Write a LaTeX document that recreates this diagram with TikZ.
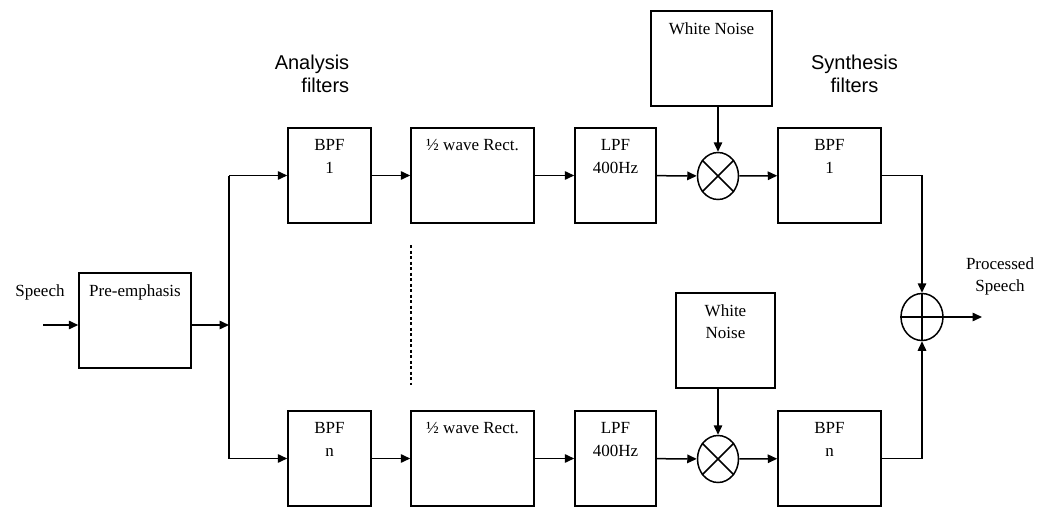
\documentclass[tikz,border=0pt]{standalone}
\usepackage{fontspec}
\setmainfont{Liberation Serif}
\newfontfamily\lsans{Liberation Sans}
\usetikzlibrary{arrows.meta,shapes.geometric}
\tikzset{
  blk/.style={draw,line width=1.5pt,minimum width=#1,inner sep=0pt,minimum height=95pt},
  boxtxt/.style={anchor=north,align=center,inner sep=0pt,yshift=-12pt,font=\fontsize{17}{22.5}\selectfont},
  circ/.style={draw,ellipse,line width=1.5pt,minimum width=41pt,minimum height=47pt,inner sep=0pt},
  ln/.style={line width=1.5pt},
  arr/.style={line width=1.5pt,-{Triangle[length=9.5pt,width=8.5pt]}},
  lab/.style={font=\fontsize{17}{22}\selectfont,align=center,inner sep=0pt},
  slab/.style={font=\lsans\fontsize{20}{23}\selectfont,inner sep=0pt},
}
\begin{document}
\begin{tikzpicture}[x=1pt,y=-1pt]
\useasboundingbox (0,0) rectangle (1050,522);
% labels
\node[lab] (speech) at (40,292) {Speech};
\node[slab,align=right] (anal) at (312,73.5) {Analysis\\filters};
\node[slab,align=center] (synt) at (854.5,73.5) {Synthesis\\filters};
\node[lab] (proc) at (1000,276) {Processed\\Speech};
% boxes
\node[blk=112pt,label={[boxtxt]north:Pre-emphasis}] (pre) at (135,320.5) {};
\node[blk=83pt,label={[boxtxt]north:BPF\\1}] (b1) at (329.5,175.5) {};
\node[blk=123pt,label={[boxtxt]north:½ wave Rect.}] (r1) at (472.5,175.5) {};
\node[blk=81pt,label={[boxtxt]north:LPF\\400Hz}] (l1) at (615.5,175.5) {};
\node[blk=121pt,label={[boxtxt]north:White Noise}] (w1) at (711.5,58.5) {};
\node[circ] (m1) at (718,176) {};
\node[blk=103pt,label={[boxtxt]north:BPF\\1}] (s1) at (829.5,175.5) {};
\node[blk=83pt,label={[boxtxt]north:BPF\\n}] (b2) at (329.5,458.5) {};
\node[blk=123pt,label={[boxtxt]north:½ wave Rect.}] (r2) at (472.5,458.5) {};
\node[blk=81pt,label={[boxtxt]north:LPF\\400Hz}] (l2) at (615.5,458.5) {};
\node[blk=99pt,label={[boxtxt]north:White\\Noise}] (w2) at (725.5,340.5) {};
\node[circ] (m2) at (718,459) {};
\node[blk=103pt,label={[boxtxt]north:BPF\\n}] (s2) at (829.5,458.5) {};
\node[circ,minimum width=42pt] (sum) at (922,317) {};
% symbols inside circles
\draw[ln] (m1.45) -- (m1.225) (m1.135) -- (m1.315);
\draw[ln] (m2.45) -- (m2.225) (m2.135) -- (m2.315);
\draw[ln] (sum.north) -- (sum.south) (sum.west) -- (sum.east);
% coordinates
\coordinate (in) at (43,325);
\coordinate (jn) at (229,325);
\coordinate (jt) at (229,175.5);
\coordinate (jb) at (229,458.5);
\coordinate (out) at (982,317);
\coordinate (d1) at (411,245);
\coordinate (d2) at (411,385);
% connectors
\draw[arr] (in) -- (in -| pre.west);
\draw[arr] (jn -| pre.east) -- (jn);
\draw[ln] (jt) -- (jb);
\draw[arr] (jt) -- (b1.west);
\draw[arr] (jb) -- (b2.west);
\draw[arr] (b1) -- (r1);
\draw[arr] (r1) -- (l1);
\draw[arr] (l1) -- (m1);
\draw[arr] (m1) -- (s1);
\draw[arr] (w1.south -| m1) -- (m1.north);
\draw[arr] (b2) -- (r2);
\draw[arr] (r2) -- (l2);
\draw[arr] (l2) -- (m2);
\draw[arr] (m2) -- (s2);
\draw[arr] (w2.south -| m2) -- (m2.north);
\draw[arr] (s1.east) -| (sum.north);
\draw[arr] (s2.east) -| (sum.south);
\draw[arr] (sum.east) -- (out);
\draw[line width=1.5pt,dash pattern=on 3pt off 2.5pt] (d1) -- (d2);
\end{tikzpicture}
\end{document}
